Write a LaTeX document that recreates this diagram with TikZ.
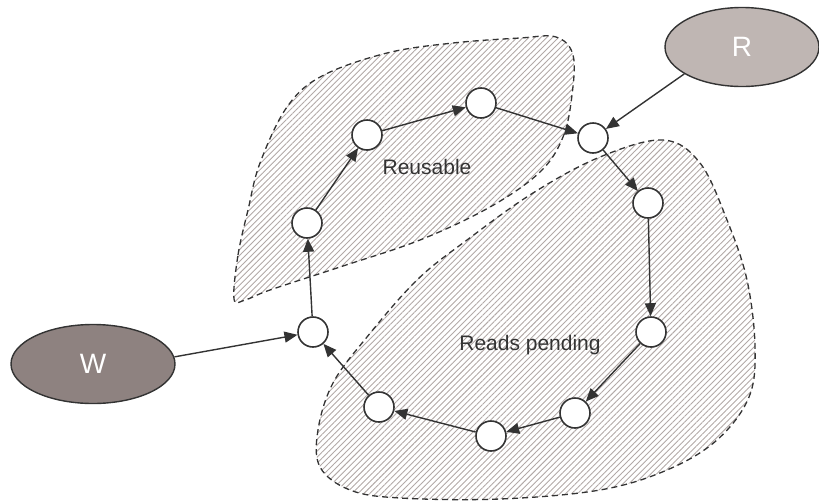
\documentclass[tikz,border=0pt]{standalone}
\usepackage{fontspec}
\setmainfont{Liberation Sans}
\usepackage{xcolor}
\usetikzlibrary{arrows.meta,shapes.geometric,patterns.meta}

\definecolor{rand}{RGB}{51,51,51}
\definecolor{kreska}{RGB}{178,169,167}
\definecolor{czytaj}{RGB}{191,182,179}
\definecolor{pisz}{RGB}{142,130,128}

\begin{document}
\begin{tikzpicture}[x=1pt,y=-1pt,
  bufor/.style={
  % The shape:
  circle,
  minimum size=30pt,
  inner sep=0pt,
  % The border:
  line width=1.6pt,
  draw=rand,
  fill=white
  },
  proces/.style={
  % The shape:
  ellipse,
  minimum width=164pt,
  minimum height=79pt,
  % The border:
  line width=1.4pt,
  draw=rand,
  % Font
  text=white,
  font=\fontsize{28}{30}\selectfont
  },
  obszar/.style={
  % dashed outline, hatched inside
  line width=1.3pt,
  draw=rand,
  dash pattern=on 6pt off 4pt,
  pattern={Lines[angle=45,distance=4.2pt,line width=0.9pt]},
  pattern color=kreska
  },
  opis/.style={
  text=rand,
  font=\fontsize{21}{23}\selectfont
  },
  strzalka/.style={
  line width=1.4pt,
  draw=rand,
  -{Triangle[length=13pt,width=11pt]}
  }]
  \useasboundingbox (0,0) rectangle (819,501);

  % hatched areas
  \draw[obszar] plot[smooth cycle,tension=0.6] coordinates {
    (234,299) (238,255) (248,210) (260,163) (287,107) (322,76) (387,53)
    (453,43) (520,38) (556,37) (573,55) (572,95) (563,137) (540,172)
    (490,207) (420,240) (340,267) (270,290) (245,300)};
  \draw[obszar] plot[smooth cycle,tension=0.6] coordinates {
    (663,140) (700,163) (727,220) (747,280) (755,347) (749,397) (717,440)
    (667,470) (600,490) (500,499) (400,498) (350,490) (320,467) (318,430)
    (333,383) (367,337) (417,280) (467,240) (533,193) (600,157)};

  \node (b1) [bufor] at (313,332) {};
  \node (b2) [bufor] at (307,223) {};
  \node (b3) [bufor] at (367,135) {};
  \node (b4) [bufor] at (481,103) {};
  \node (b5) [bufor] at (593,138) {};
  \node (b6) [bufor] at (648,203) {};
  \node (b7) [bufor] at (651,332) {};
  \node (b8) [bufor] at (575,413) {};
  \node (b9) [bufor] at (491,436) {};
  \node (b10) [bufor] at (379,407) {};

  \node (W) [proces,fill=pisz] at (93,364) {W};
  \node (R) [proces,fill=czytaj,minimum width=154pt] at (742,47) {R};

  \node (reuse) [opis] at (427,167) {Reusable};
  \node (pending) [opis] at (530,345) {Reads pending};

  \draw[strzalka] (b1) to (b2);
  \draw[strzalka] (b2) to (b3);
  \draw[strzalka] (b3) to (b4);
  \draw[strzalka] (b4) to (b5);
  \draw[strzalka] (b5) to (b6);
  \draw[strzalka] (b6) to (b7);
  \draw[strzalka] (b7) to (b8);
  \draw[strzalka] (b8) to (b9);
  \draw[strzalka] (b9) to (b10);
  \draw[strzalka] (b10) to (b1);

  \draw[strzalka] (W.5) to (b1);
  \draw[strzalka] (R.205) to (b5);
\end{tikzpicture}
\end{document}
